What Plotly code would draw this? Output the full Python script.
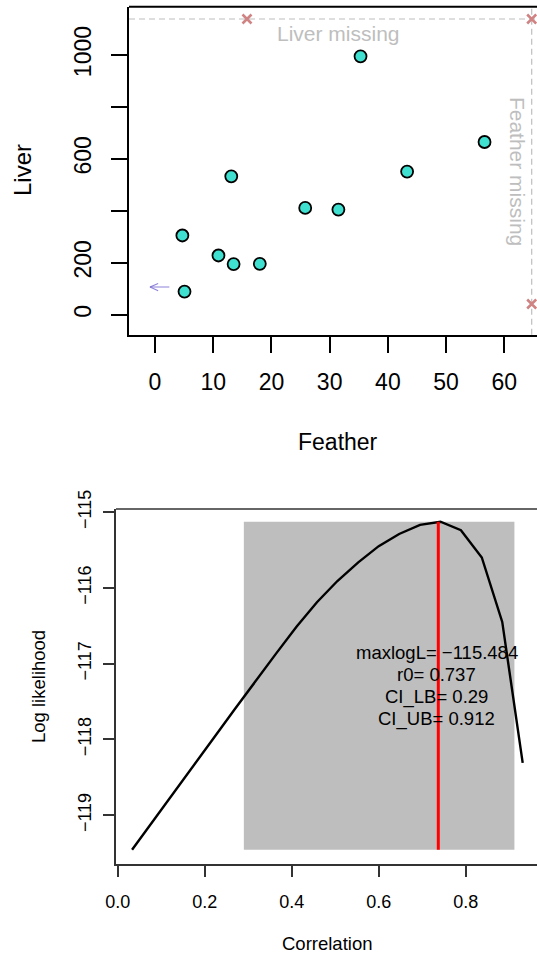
import plotly.graph_objects as go

W, H = 537, 956
FONT = "Liberation Sans, Arial, sans-serif"

# ---- upper panel: Feather vs Liver concentrations ----
feather = [4.7, 5.07, 10.9, 13.5, 18.0, 13.1, 25.8, 31.5, 35.3, 43.3, 56.6]
liver = [305, 89, 228, 195, 196, 533, 411, 405, 995, 551, 665]

# samples with one of the two measurements missing
missing_level_feather = 64.7      # feather value used for "Feather missing"
missing_level_liver = 1138.6      # liver value used for "Liver missing"
liver_only_feather = [15.8]        # feather values of samples lacking liver
feather_only_liver = [41.2]        # liver values of samples lacking feather
both_missing = 1

# left-censored feather value (below detection limit)
censored_feather_hi = 2.46
censored_feather_lo = -0.86
censored_liver = 106.5

top_xticks = [0, 10, 20, 30, 40, 50, 60]
top_yticks = [0, 200, 400, 600, 800, 1000]
top_yticktext = ["0", "200", "", "600", "", "1000"]

# ---- lower panel: profile log likelihood of the correlation ----
corr = [0.033, 0.080, 0.127, 0.174, 0.222, 0.269, 0.316, 0.364, 0.411, 0.458,
        0.505, 0.553, 0.600, 0.647, 0.695, 0.742, 0.789, 0.837, 0.884, 0.931]
loglik = [-119.455, -119.082, -118.712, -118.343, -117.972, -117.603, -117.232,
          -116.868, -116.515, -116.19, -115.91, -115.665, -115.45, -115.29,
          -115.17, -115.128, -115.24, -115.60, -116.45, -118.31]
max_logL = -115.484
r0 = 0.737
ci_lb = 0.29
ci_ub = 0.912

bot_xticks = [0.0, 0.2, 0.4, 0.6, 0.8]
bot_xticktext = ["0.0", "0.2", "0.4", "0.6", "0.8"]
bot_yticks = [-115, -116, -117, -118, -119]
bot_yticktext = ["\u2212115", "\u2212116", "\u2212117", "\u2212118", "\u2212119"]

TURQ = "#40E0D0"
ROSY = "#CF8383"
LIGHT = "#BEBEBE"
ARROW = "rgba(106,90,205,0.75)"


def px_x(p):
    return p / W


def px_y(p):
    return 1 - p / H


fig = go.Figure()

# upper panel traces
fig.add_trace(go.Scatter(
    x=feather, y=liver, mode="markers", xaxis="x", yaxis="y",
    marker=dict(size=12, color=TURQ, line=dict(color="black", width=1.8)),
    cliponaxis=False, showlegend=False))

miss_x = liver_only_feather + [missing_level_feather] * (len(feather_only_liver) + both_missing)
miss_y = [missing_level_liver] * len(liver_only_feather) + feather_only_liver + [missing_level_liver] * both_missing
fig.add_trace(go.Scatter(
    x=miss_x, y=miss_y, mode="markers", xaxis="x", yaxis="y",
    marker=dict(symbol="x-thin", size=9, line=dict(color=ROSY, width=2.6)),
    cliponaxis=True, showlegend=False))

# censored value drawn as a leftward arrow
head_dx = 1.4
head_dy = 14
fig.add_trace(go.Scatter(
    x=[censored_feather_hi, censored_feather_lo, None,
       censored_feather_lo + head_dx, censored_feather_lo, censored_feather_lo + head_dx],
    y=[censored_liver, censored_liver, None,
       censored_liver + head_dy, censored_liver, censored_liver - head_dy],
    mode="lines", xaxis="x", yaxis="y",
    line=dict(color=ARROW, width=1.1), showlegend=False, hoverinfo="skip"))

# lower panel traces
lo, hi = min(loglik), max(loglik)
fig.add_trace(go.Scatter(
    x=corr, y=loglik, mode="lines", xaxis="x2", yaxis="y2",
    line=dict(color="black", width=2.4), showlegend=False))

shapes = []
# missing-value guide lines
shapes.append(dict(type="line", xref="x domain", yref="y", x0=0, x1=1,
                   y0=missing_level_liver, y1=missing_level_liver,
                   line=dict(color=LIGHT, width=1.2, dash="6px,4px"), layer="below"))
shapes.append(dict(type="line", xref="x", yref="y domain", x0=missing_level_feather,
                   x1=missing_level_feather, y0=0, y1=1,
                   line=dict(color=LIGHT, width=1.2, dash="6px,4px"), layer="below"))
# top borders of both panels
shapes.append(dict(type="line", xref="x domain", yref="y domain", x0=0, x1=1, y0=1, y1=1,
                   line=dict(color="black", width=2)))
shapes.append(dict(type="line", xref="x2 domain", yref="y2 domain", x0=0, x1=1, y0=1, y1=1,
                   line=dict(color="#333333", width=1.6)))
# confidence interval band and maximum
shapes.append(dict(type="rect", xref="x2", yref="y2", x0=ci_lb, x1=ci_ub, y0=lo, y1=hi,
                   fillcolor=LIGHT, line=dict(width=0), layer="below"))
shapes.append(dict(type="line", xref="x2", yref="y2", x0=r0, x1=r0, y0=lo, y1=hi,
                   line=dict(color="red", width=3)))

annotations = []
annotations.append(dict(x=31.5, y=missing_level_liver, xref="x", yref="y", text="Liver missing",
                        showarrow=False, yanchor="top", xanchor="center", yshift=-1,
                        font=dict(family=FONT, size=21, color=LIGHT)))
annotations.append(dict(x=missing_level_feather, y=551, xref="x", yref="y", text="Feather missing",
                        showarrow=False, textangle=90, xanchor="center", yanchor="middle",
                        xshift=-14,
                        font=dict(family=FONT, size=21, color=LIGHT)))
# axis titles
annotations.append(dict(x=px_x(22), y=px_y(170), xref="paper", yref="paper", text="Liver",
                        showarrow=False, textangle=-90, xanchor="center", yanchor="middle",
                        font=dict(family=FONT, size=24, color="black")))
annotations.append(dict(x=px_x(338), y=px_y(442), xref="paper", yref="paper", text="Feather",
                        showarrow=False, xanchor="center", yanchor="middle",
                        font=dict(family=FONT, size=23, color="black")))
annotations.append(dict(x=px_x(38), y=px_y(687), xref="paper", yref="paper", text="Log likelihood",
                        showarrow=False, textangle=-90, xanchor="center", yanchor="middle",
                        font=dict(family=FONT, size=18.5, color="black")))
annotations.append(dict(x=px_x(327), y=px_y(943), xref="paper", yref="paper", text="Correlation",
                        showarrow=False, xanchor="center", yanchor="middle",
                        font=dict(family=FONT, size=18.5, color="black")))
# fitted summary text, centred on r0 and the middle of the likelihood range
summary = [f"maxlogL= \u2212{abs(max_logL):.3f}", f"r0= {r0}", f"CI_LB= {ci_lb}", f"CI_UB= {ci_ub}"]
mid = (lo + hi) / 2
line_gap = 22.2
for i, s in enumerate(summary):
    annotations.append(dict(x=r0, y=mid, xref="x2", yref="y2", text=s, showarrow=False,
                            xanchor="center", yanchor="middle", xshift=-1.5,
                            yshift=(1.5 - i) * line_gap,
                            font=dict(family=FONT, size=18.5, color="black")))

axis_common = dict(showgrid=False, zeroline=False, ticks="outside", showline=True,
                   mirror=False, automargin=False)

fig.update_layout(
    width=W, height=H, margin=dict(l=0, r=0, t=0, b=0, pad=0, autoexpand=False),
    paper_bgcolor="white", plot_bgcolor="white",
    font=dict(family=FONT, color="black"),
    xaxis=dict(domain=[px_x(129), 1], range=[-4.466, 65.61], anchor="y",
               tickvals=top_xticks, ticklen=16, tickwidth=2, linewidth=2,
               linecolor="black", tickcolor="black", tickfont=dict(size=23),
               ticklabelstandoff=10, **axis_common),
    yaxis=dict(domain=[px_y(334.7), px_y(6.7)], range=[-77, 1186], anchor="x",
               tickvals=top_yticks, ticktext=top_yticktext, tickangle=-90,
               ticklen=16, tickwidth=2, linewidth=2, linecolor="black",
               tickcolor="black", tickfont=dict(size=23), ticklabelstandoff=11,
               **axis_common),
    xaxis2=dict(domain=[px_x(116), 1], range=[-0.0039, 0.9639], anchor="y2",
                tickvals=bot_xticks, ticktext=bot_xticktext, ticklen=11, tickwidth=1.6,
                linewidth=1.6, linecolor="#333333", tickcolor="#333333",
                tickfont=dict(size=18), ticklabelstandoff=10, **axis_common),
    yaxis2=dict(domain=[px_y(864), px_y(509)], range=[-119.644, -114.960], anchor="x2",
                tickvals=bot_yticks, ticktext=bot_yticktext, tickangle=-90,
                ticklen=11, tickwidth=1.6, linewidth=1.6, linecolor="#333333",
                tickcolor="#333333", tickfont=dict(size=18), ticklabelstandoff=5,
                **axis_common),
    shapes=shapes, annotations=annotations,
)

fig.write_html("out.html")
